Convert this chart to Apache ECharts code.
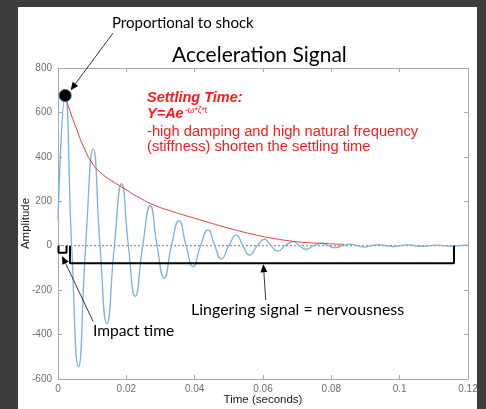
<!DOCTYPE html>
<html>
<head>
<meta charset="utf-8">
<script src="https://cdn.jsdelivr.net/npm/echarts@6/dist/echarts.min.js"></script>
<style>
html,body{margin:0;padding:0;background:#3d3d3d;}
#chart{width:486px;height:409px;}
</style>
</head>
<body>
<div id="chart"></div>
<script>
// ---- data ----
const xTickLabels = ['0','0.02','0.04','0.06','0.08','0.1','0.12'];
const yTickLabels = ['-600','-400','-200','0','200','400','600','800'];

// acceleration signal: start, peaks, troughs and zero crossings (seconds, amplitude)
const signalTime = [0, 0.0021, 0.0040, 0.0060, 0.0081, 0.0103, 0.0123, 0.0143, 0.0165, 0.0186,
  0.0206, 0.0226, 0.0248, 0.0270, 0.0290, 0.0311, 0.0332, 0.0354, 0.0375, 0.0395,
  0.0417, 0.0439, 0.0459, 0.0478, 0.0500, 0.0522, 0.0541, 0.0561, 0.0583, 0.0604,
  0.0624, 0.0643, 0.0665, 0.0687, 0.0707, 0.0726, 0.0748, 0.0771, 0.0791, 0.0811,
  0.0833, 0.0856, 0.0876, 0.0896, 0.0918, 0.0940, 0.0960, 0.0980, 0.1002, 0.1025,
  0.1045, 0.1065, 0.1087, 0.1110, 0.1130, 0.1150, 0.1172, 0.1195, 0.1200];
const signalValue = [115, 676, 0, -545, 0, 436, 0, -350, 0, 279,
  0, -228, 0, 180, 0, -146, 0, 113, 0, -94,
  0, 71, 0, -60, 0, 48, 0, -42, 0, 29,
  0, -24, 0, 18, 0, -16, 0, 11, 0, -9,
  0, 7, 0, -6, 0, 5, 0, -4, 0, 4,
  0, -3, 0, 3, 0, -2, 0, 2, 1];

// settling-time envelope (red)
const envTime = [0.0021, 0.0035, 0.0053, 0.0075, 0.0103, 0.0130, 0.0157, 0.0186, 0.0239, 0.0286,
  0.0337, 0.0390, 0.0434, 0.0480, 0.0531, 0.0580, 0.0629, 0.0677, 0.0720, 0.0765, 0.0837];
const envValue = [676, 606, 532, 445, 365, 322, 292, 265, 215, 180,
  153, 128, 108, 87, 66, 48, 33, 22, 15, 11, 6];

// peak marker
const peakPoint = [0.0021, 676];

// zero reference line
const zeroTime = [0, 0.12];
const zeroValue = [0, 0];

// brackets (data coordinates)
const impactBracketT = [0.00015, 0.00015, 0.0025, 0.0025];
const impactBracketV = [0, -32, -32, 0];
const lingerBracketT = [0.0035, 0.0035, 0.1159, 0.1159];
const lingerBracketV = [0, -79, -79, 0];

// arrows [fromT, fromV, toT, toV]
const arrowShock = [0.0161, 957, 0.0037, 700];
const arrowImpact = [0.0103, -342, 0.0012, -46];
const arrowLinger = [0.0608, -244, 0.0601, -84];

const zip = (a, b) => a.map((v, i) => [v, b[i]]);

const chart = echarts.init(document.getElementById('chart'), null, {renderer: 'canvas'});

const axisGray = '#a9a9a9';
const labelGray = '#6e6e6e';

function boxAxis(pos, min, max, interval) {
  return {
    type: 'value', min: min, max: max, interval: interval, position: pos,
    axisLine: {show: true, onZero: false, lineStyle: {color: axisGray, width: 1}},
    axisTick: {show: true, inside: true, length: 4, lineStyle: {color: axisGray}},
    axisLabel: {show: false}, splitLine: {show: false}
  };
}

const option = {
  backgroundColor: '#3d3d3d',
  animation: false,
  grid: {left: 58, right: 18, top: 68, bottom: 30, containLabel: false, outerBoundsMode: 'none'},
  xAxis: [{
    type: 'value', min: 0, max: 0.12, interval: 0.02, position: 'bottom',
    name: 'Time (seconds)', nameLocation: 'middle', nameGap: 15, nameMoveOverlap: false,
    nameTextStyle: {color: '#1a1a1a', fontSize: 11.5, fontFamily: 'Liberation Sans'},
    axisLine: {show: true, onZero: false, lineStyle: {color: axisGray, width: 1}},
    axisTick: {show: true, inside: true, length: 4, lineStyle: {color: axisGray}},
    axisLabel: {color: labelGray, fontSize: 10, fontFamily: 'Liberation Sans', margin: 5,
      formatter: v => xTickLabels[Math.round(v / 0.02)]},
    splitLine: {show: false}
  }, boxAxis('top', 0, 0.12, 0.02)],
  yAxis: [{
    type: 'value', min: -600, max: 800, interval: 200, position: 'left',
    name: 'Amplitude', nameLocation: 'middle', nameGap: 26, nameRotate: 90, nameMoveOverlap: false,
    nameTextStyle: {color: '#1a1a1a', fontSize: 11.5, fontFamily: 'Liberation Sans'},
    axisLine: {show: true, onZero: false, lineStyle: {color: axisGray, width: 1}},
    axisTick: {show: true, inside: true, length: 4, lineStyle: {color: axisGray}},
    axisLabel: {color: labelGray, fontSize: 10, fontFamily: 'Liberation Sans', margin: 6,
      formatter: v => yTickLabels[Math.round((v + 600) / 200)]},
    splitLine: {show: false}
  }, boxAxis('right', -600, 800, 200)],
  series: [
    {type: 'line', name: 'zero', data: zip(zeroTime, zeroValue), showSymbol: false, symbol: 'none',
      lineStyle: {color: '#7a7a7a', width: 1, type: [2, 2]}, z: 1, silent: true},
    {type: 'line', name: 'signal', data: zip(signalTime, signalValue), smooth: 0.55, symbol: 'none',
      lineStyle: {color: '#7db2db', width: 1.3}, z: 2},
    {type: 'line', name: 'envelope', data: zip(envTime, envValue), smooth: true, symbol: 'none',
      lineStyle: {color: '#e5393b', width: 1}, z: 3},
    {type: 'line', name: 'impactBracket', data: zip(impactBracketT, impactBracketV), symbol: 'none',
      lineStyle: {color: '#000', width: 2}, z: 4},
    {type: 'line', name: 'lingerBracket', data: zip(lingerBracketT, lingerBracketV), symbol: 'none',
      lineStyle: {color: '#000', width: 2}, z: 4},
    {type: 'scatter', name: 'peak', data: [peakPoint], symbol: 'circle', symbolSize: 12,
      itemStyle: {color: '#000', borderColor: '#2f5d8f', borderWidth: 1, opacity: 1}, z: 5}
  ]
};
chart.setOption(option);

function px(t, v) { return chart.convertToPixel({xAxisIndex: 0, yAxisIndex: 0}, [t, v]); }

function arrow(a) {
  const p0 = px(a[0], a[1]);
  const p1 = px(a[2], a[3]);
  const dx = p1[0] - p0[0], dy = p1[1] - p0[1];
  const len = Math.sqrt(dx * dx + dy * dy);
  const ux = dx / len, uy = dy / len;
  const hl = 8, hw = 3.5;
  const bx = p1[0] - ux * hl, by = p1[1] - uy * hl;
  return [
    {type: 'line', shape: {x1: p0[0], y1: p0[1], x2: bx, y2: by},
      style: {stroke: '#222', lineWidth: 0.9}, z: 20},
    {type: 'polygon', shape: {points: [[p1[0], p1[1]], [bx - uy * hw, by + ux * hw], [bx + uy * hw, by - ux * hw]]},
      style: {fill: '#000'}, z: 20}
  ];
}

function txt(text, x, y, font, fill) {
  return {type: 'text', x: x, y: y, z: 20,
    style: {text: text, font: font, fill: fill, align: 'left', verticalAlign: 'middle'}};
}

const calibri = '"Lato", "Open Sans", sans-serif';
const arial = '"Liberation Sans", Arial, sans-serif';

const graphics = [
  {type: 'rect', shape: {x: 18, y: 7, width: 459, height: 402}, style: {fill: '#ffffff'}, z: -100, silent: true},
  txt('Proportional to shock', 112, 23, '15px ' + calibri, '#000'),
  txt('Acceleration Signal', 172, 55, '21px ' + calibri, '#000'),
  txt('Settling Time:', 147, 98, 'italic bold 14.5px ' + arial, '#ff1a1a'),
  txt('Y=Ae', 147, 114, 'italic bold 14.5px ' + arial, '#ff1a1a'),
  txt('-ω*ζ*t', 185, 111, '8.5px ' + arial, '#ff1a1a'),
  txt('-high damping and high natural frequency', 147, 132, '14.7px ' + arial, '#ff1a1a'),
  txt('(stiffness) shorten the settling time', 147, 147, '14.7px ' + arial, '#ff1a1a'),
  txt('Lingering signal = nervousness', 191, 310, '16px ' + calibri, '#000'),
  txt('Impact time', 93, 331, '15.6px ' + calibri, '#000')
].concat(arrow(arrowShock), arrow(arrowImpact), arrow(arrowLinger));

chart.setOption({graphic: graphics});
</script>
</body>
</html>
